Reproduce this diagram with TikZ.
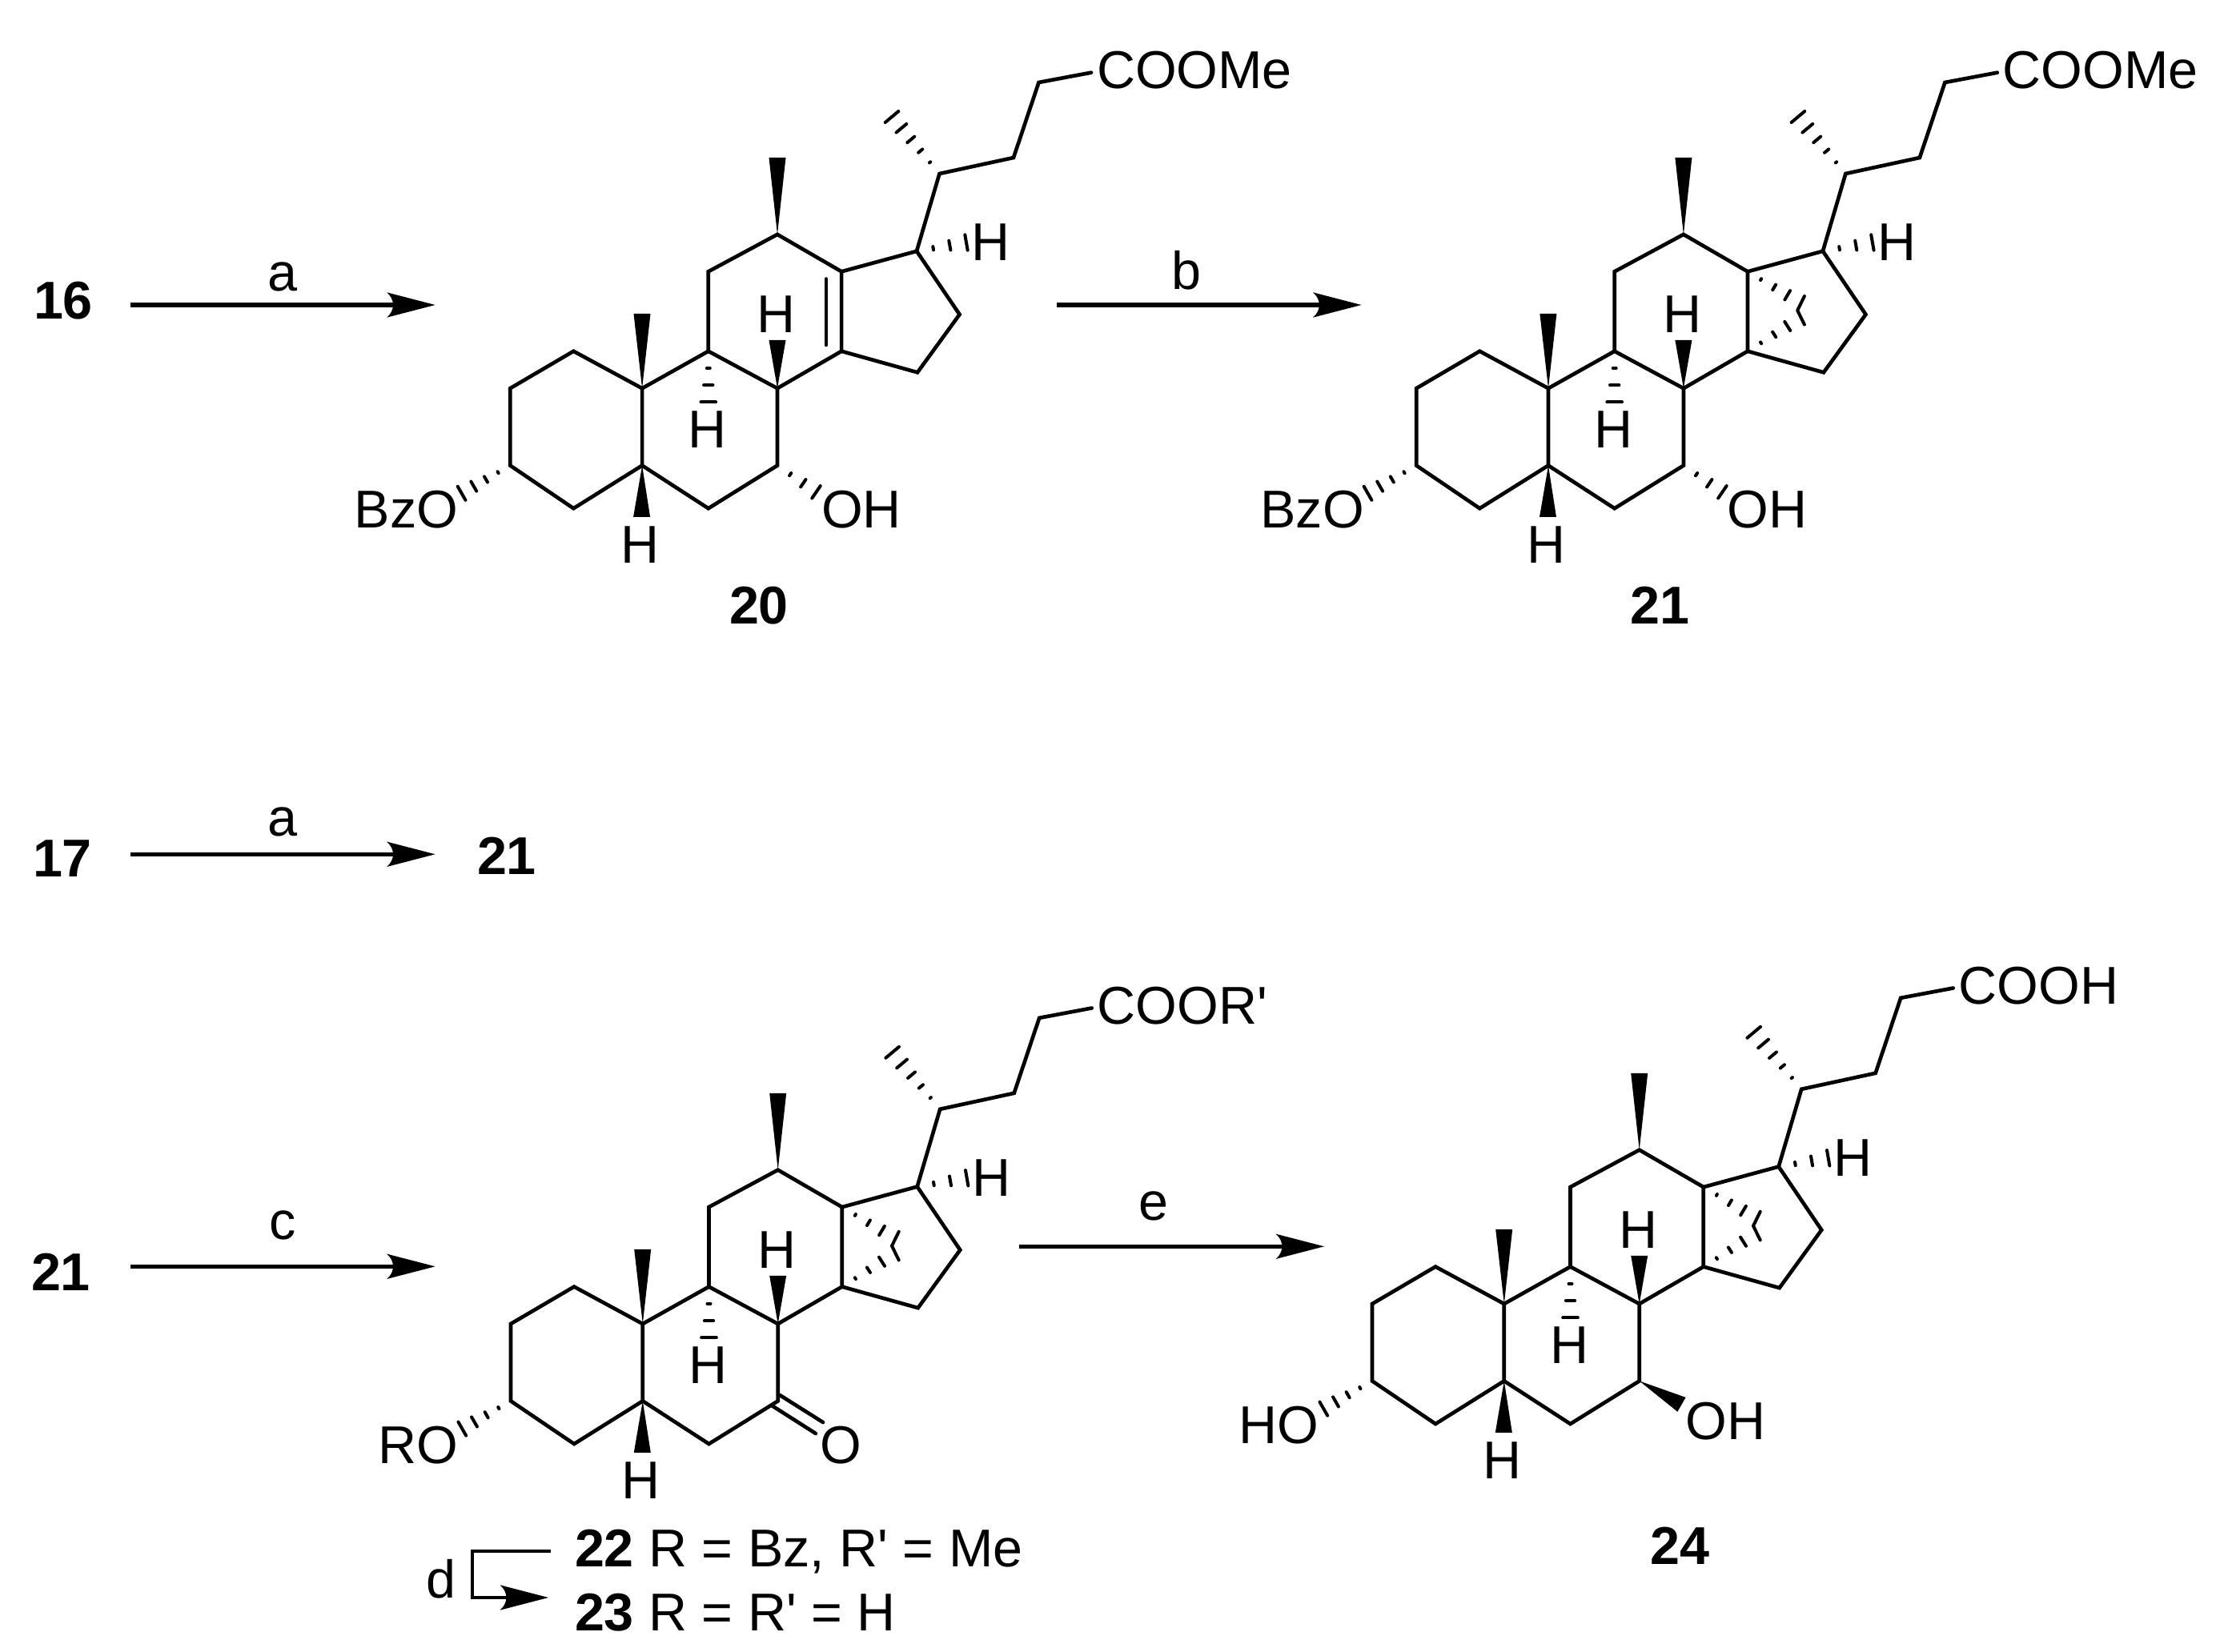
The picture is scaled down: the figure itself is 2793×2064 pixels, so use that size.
\documentclass[tikz,border=0pt]{standalone}
\usepackage{fontspec}
\usetikzlibrary{calc}
\newfontfamily\arial{Liberation Sans}
\tikzset{
  bond/.style={line width=1.4pt,line cap=round,line join=miter,black},
  rxnline/.style={line width=1.6pt,black},
  hashline/.style={line width=1.2pt,line cap=round,black},
  chem/.style={inner sep=0pt,outer sep=0pt,font=\arial\fontsize{19.95}{22}\selectfont,text=black},
  cmpd/.style={chem,font=\arial\bfseries\fontsize{19.95}{22}\selectfont},
}
% hashed bond: from, to, number of slots, last slot drawn, final length
\newcommand\hashb[5]{%
  \foreach \i in {1,...,#4}{%
    \pgfmathsetmacro\tt{\i/#3}%
    \pgfmathsetmacro\hw{max(\tt*#5*0.3/2-0.5,0.05)}%
    \coordinate (hp) at ($(#1)!\tt!(#2)$);
    \draw[hashline] ($(hp)!\hw pt!90:(#1)$) -- ($(hp)!\hw pt!-90:(#1)$);
  }%
}
% solid wedge, vertical
\newcommand\wedgev[4]{\fill[black] (#1) -- (#2-#4,#3) -- (#2+#4,#3) -- cycle;}
% reaction arrow head
\newcommand\headat[1]{%
  \begin{scope}[shift={(#1)}]
    \fill[black] (0,0) -- (-60.5,-15.7) .. controls (-50,-7) and (-50,7) .. (-60.5,15.7) -- cycle;
  \end{scope}}
\newcommand\rxn[4]{%
  \coordinate (#1s) at (#2,#4);
  \coordinate (#1e) at (#3,#4);
  \draw[rxnline] (#1s) -- ($(#1e)+(-50,0)$);
  \headat{#1e}}
% common steroid skeleton, prefix #1
\newcommand\skeleton[1]{%
  \coordinate (#1C1) at (716.4,438.8);
  \coordinate (#1C2) at (637.3,485.2);
  \coordinate (#1C3) at (637.3,581.6);
  \coordinate (#1C4) at (716.4,635.2);
  \coordinate (#1C5) at (802.1,581.6);
  \coordinate (#1C6) at (884.8,635.2);
  \coordinate (#1C7) at (971,581.6);
  \coordinate (#1C8) at (971,485.2);
  \coordinate (#1C9) at (884.8,438.8);
  \coordinate (#1C10) at (802.1,485.2);
  \coordinate (#1C11) at (884.8,339.3);
  \coordinate (#1C12) at (971,292.9);
  \coordinate (#1C13) at (1051.1,339.3);
  \coordinate (#1C14) at (1051.1,438.8);
  \coordinate (#1C15) at (1146,465.3);
  \coordinate (#1C16) at (1198.6,392.9);
  \coordinate (#1C17) at (1145,313.8);
  \coordinate (#1C20) at (1173.5,217);
  \coordinate (#1C22) at (1266,197);
  \coordinate (#1C23) at (1297.5,103);
  \coordinate (#1C24) at (1363,90.7);
  \coordinate (#1M20) at (1114,146);
  \coordinate (#1H9) at (884.8,502.5);
  \coordinate (#1H17) at (1207,303);
  \draw[bond] (#1C1) -- (#1C2) -- (#1C3) -- (#1C4) -- (#1C5) -- (#1C10) -- cycle;
  \draw[bond] (#1C5) -- (#1C6) -- (#1C7) -- (#1C8) -- (#1C9) -- (#1C10);
  \draw[bond] (#1C9) -- (#1C11) -- (#1C12) -- (#1C13) -- (#1C14) -- (#1C8);
  \draw[bond] (#1C13) -- (#1C17) -- (#1C16) -- (#1C15) -- (#1C14);
  \draw[bond] (#1C17) -- (#1C20) -- (#1C22) -- (#1C23) -- (#1C24);
  \wedgev{#1C12}{971}{197}{10.5}
  \wedgev{#1C10}{802}{392}{10.5}
  \wedgev{#1C8}{971}{425}{10.5}
  \wedgev{#1C5}{801.6}{646}{10.5}
  \hashb{#1C9}{#1H9}{3}{3}{22}
  \hashb{#1C20}{#1M20}{5}{5}{25}
  \hashb{#1C17}{#1H17}{3}{3}{23}
  \node[chem,anchor=base] (#1h8) at (970,416) {H};
  \node[chem,anchor=base] (#1h9) at (884,560) {H};
  \node[chem,anchor=base] (#1h5) at (800,704) {H};
  \node[chem,anchor=base] (#1h17) at (1237.5,326) {H};
}
% cyclopropane bridge on C13/C14
\newcommand\bridge[1]{%
  \coordinate (#1P1) at (1117.4,378.6);
  \coordinate (#1P2) at (1117.4,397);
  \coordinate (#1Pa) at (1113.3,387.8);
  \coordinate (#1Pt) at (1122,370);
  \coordinate (#1Pb) at (1122,405.6);
  \hashb{#1C13}{#1P1}{4}{3}{22}
  \hashb{#1C14}{#1P2}{4}{3}{22}
  \draw[hashline,line join=round] (#1Pt) -- (#1Pa) -- (#1Pb);
}
\newcommand\hashthree[1]{%
  \coordinate (#1Ol3) at (576.6,616.3);
  \hashb{#1C3}{#1Ol3}{4}{4}{23}
}
\newcommand\hashseven[1]{%
  \coordinate (#1Ol7) at (1019.5,614.8);
  \hashb{#1C7}{#1Ol7}{3}{3}{22}
}
\begin{document}
\begin{tikzpicture}[x=0.3pt,y=-0.3pt]
\useasboundingbox (0,0) rectangle (2793,2064);
\fill[white] (0,0) rectangle (2793,2064);

% ---- compound 20
\begin{scope}
  \skeleton{a}
  \hashthree{a}
  \hashseven{a}
  \coordinate (aDb1) at (1032,348.5);
  \coordinate (aDb2) at (1032,431);
  \draw[bond] (aDb1) -- (aDb2);
  \node[chem,anchor=base east] (abzo) at (572,660) {BzO};
  \node[chem,anchor=base west] (aoh) at (1026,660) {OH};
  \node[chem,anchor=base west] (acoo) at (1370,110.7) {COOMe};
\end{scope}
% ---- compound 21
\begin{scope}[shift={(1131.9,0)}]
  \skeleton{b}
  \bridge{b}
  \hashthree{b}
  \hashseven{b}
  \node[chem,anchor=base east] (bbzo) at (572,660) {BzO};
  \node[chem,anchor=base west] (boh) at (1026,660) {OH};
  \node[chem,anchor=base west] (bcoo) at (1370,110.7) {COOMe};
\end{scope}
% ---- compound 22/23
\begin{scope}[shift={(0.7,1168.8)}]
  \skeleton{c}
  \bridge{c}
  \hashthree{c}
  \coordinate (cCO1a) at (973.3,574.2);
  \coordinate (cCO1b) at (1027.3,608.2);
  \coordinate (cCO2a) at (964,587.7);
  \coordinate (cCO2b) at (1018.2,622.2);
  \draw[bond] (cCO1a) -- (cCO1b);
  \draw[bond] (cCO2a) -- (cCO2b);
  \node[chem,anchor=base] (cketo) at (1050,660) {O};
  \node[chem,anchor=base east] (cro) at (572,660) {RO};
  \node[chem,anchor=base west] (ccoo) at (1370,110.7) {COOR'};
\end{scope}
% ---- compound 24
\begin{scope}[shift={(1076.7,1143.8)}]
  \skeleton{d}
  \bridge{d}
  \hashthree{d}
  \coordinate (dW1) at (1028.9,602.1);
  \coordinate (dW2) at (1018.7,620);
  \fill[black] (dC7) -- (dW1) -- (dW2) -- cycle;
  \node[chem,anchor=base east] (dho) at (571,660) {HO};
  \node[chem,anchor=base west] (doh) at (1029,655) {OH};
  \node[chem,anchor=base west] (dcoo) at (1370,110.7) {COOH};
\end{scope}

% ---- reaction arrows
\rxn{r1}{163}{543.6}{381}
\rxn{r2}{1320}{1700.5}{381}
\rxn{r3}{163}{543.6}{1067.3}
\rxn{r4}{163}{543.6}{1582.3}
\rxn{r5}{1272.7}{1654}{1557.3}

\node[chem,anchor=base] (la1) at (353,364) {a};
\node[chem,anchor=base] (lb) at (1482,362) {b};
\node[chem,anchor=base] (la2) at (352.7,1044) {a};
\node[chem,anchor=base] (lc) at (353.6,1548.3) {c};
\node[chem,anchor=base] (le) at (1441,1524) {e};

\node[cmpd,anchor=base] (n16) at (79,399) {16};
\node[cmpd,anchor=base] (n17) at (78,1095) {17};
\node[cmpd,anchor=base] (n21p) at (633,1092) {21};
\node[cmpd,anchor=base] (n21q) at (76,1612) {21};
\node[cmpd,anchor=base] (n20) at (948,780) {20};
\node[cmpd,anchor=base] (n21) at (2073,780) {21};
\node[cmpd,anchor=base] (n24) at (2098,1954) {24};

% ---- bottom labels and bent arrow
\node[chem,anchor=base west] (l22) at (718,1957.6) {\textbf{22} R = Bz, R' = Me};
\node[chem,anchor=base west] (l23) at (718,2037) {\textbf{23} R = R' = H};
\node[chem,anchor=base] (ld) at (551,1996) {d};
\coordinate (ba) at (687.7,1938);
\coordinate (bb) at (590,1938);
\coordinate (bc) at (590,1996);
\coordinate (bd) at (685,1996);
\draw[bond,line cap=butt] (ba) -- (bb) -- (bc) -- ($(bd)+(-50,0)$);
\headat{bd}
\end{tikzpicture}
\end{document}
